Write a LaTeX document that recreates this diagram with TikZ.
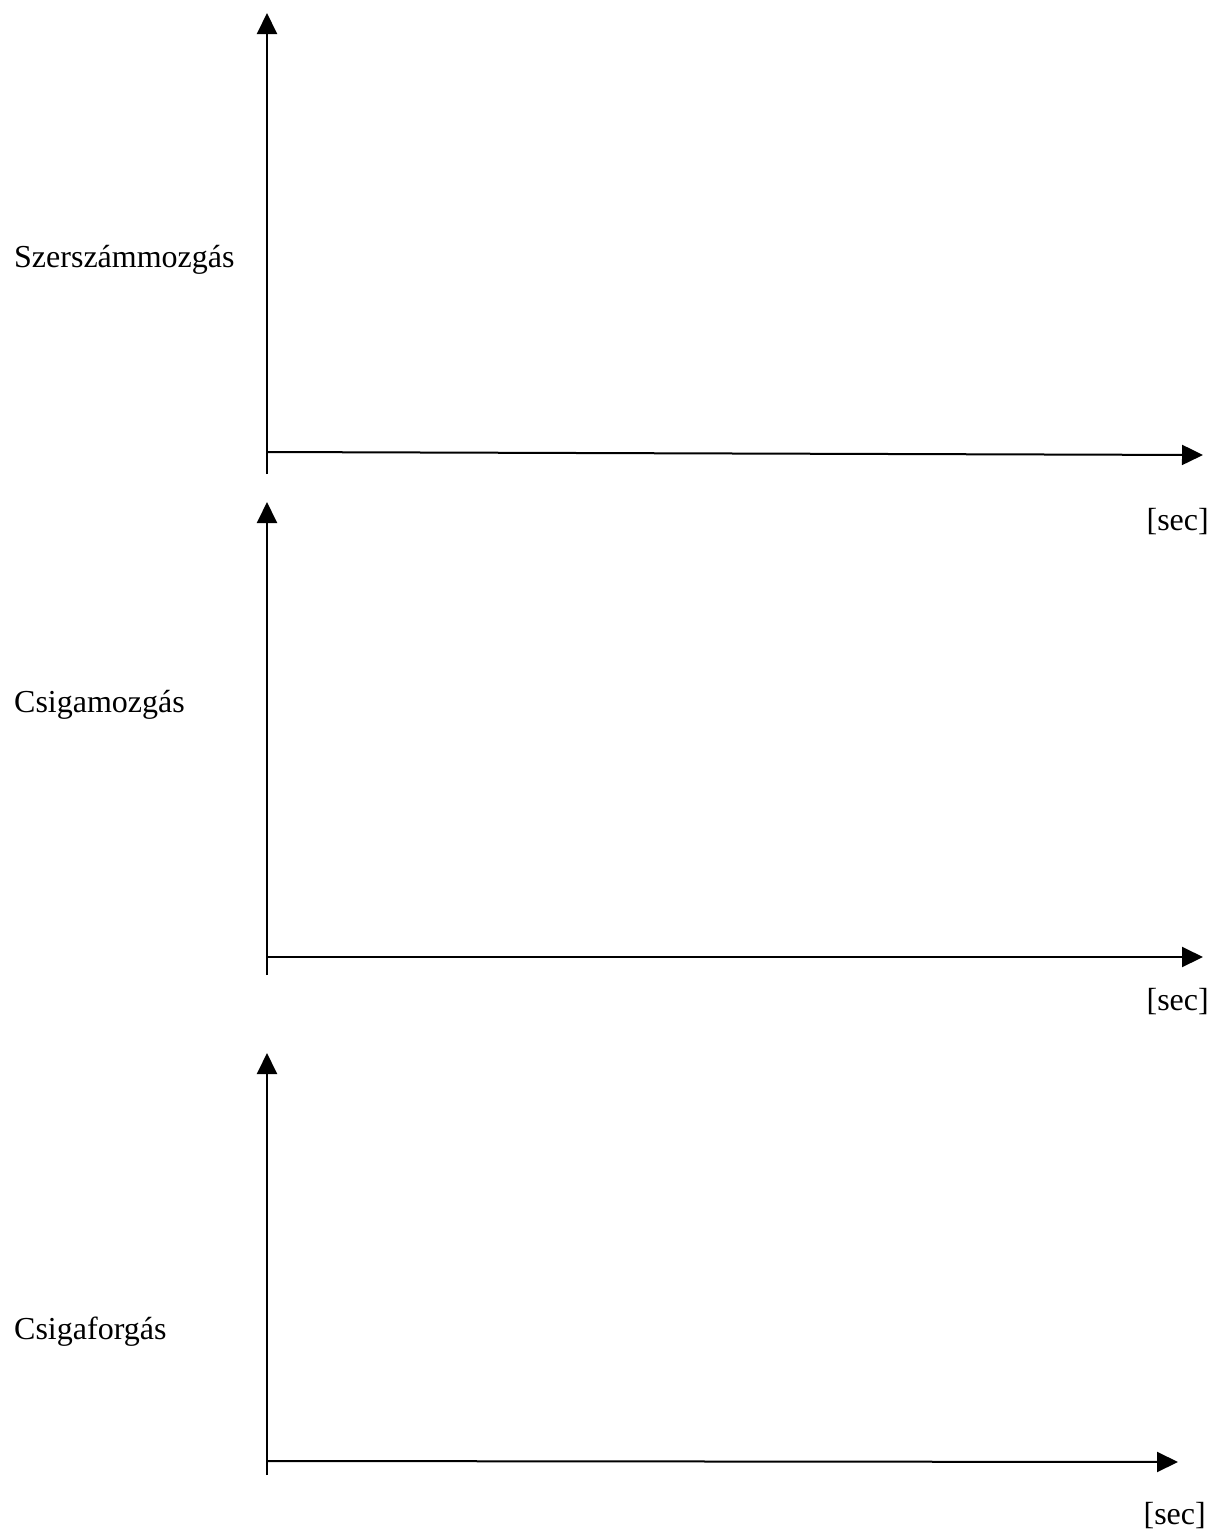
\documentclass[tikz,border=0pt]{standalone}
\usepackage{fontspec}
\setmainfont{Liberation Serif}
\usetikzlibrary{arrows.meta}
\begin{document}
\begin{tikzpicture}[x=1pt,y=-1pt,
  axis/.style={line width=2pt,-{Triangle[length=21pt,width=20pt]}},
  lbl/.style={font=\fontsize{32}{38}\selectfont,inner sep=0pt,anchor=base west},
  unit/.style={font=\fontsize{32}{38}\selectfont,inner sep=0pt,anchor=base east}]
\useasboundingbox (0,0) rectangle (1213,1532);
% axis 1
\coordinate (o1) at (267,474);
\coordinate (y1) at (267,13);
\coordinate (h1s) at (267,452);
\coordinate (x1) at (1203,455);
\draw[axis] (o1) -- (y1);
\draw[axis] (h1s) -- (x1);
\node[lbl] (l1) at (14,267) {Szerszámmozgás};
\node[unit] (s1) at (1209,530) {[sec]};
% axis 2
\coordinate (o2) at (267,975);
\coordinate (y2) at (267,502);
\coordinate (h2s) at (267,957);
\coordinate (x2) at (1203,957);
\draw[axis] (o2) -- (y2);
\draw[axis] (h2s) -- (x2);
\node[lbl] (l2) at (14,712) {Csigamozgás};
\node[unit] (s2) at (1209,1010) {[sec]};
% axis 3
\coordinate (o3) at (267,1475);
\coordinate (y3) at (267,1053);
\coordinate (h3s) at (267,1461);
\coordinate (x3) at (1178,1462);
\draw[axis] (o3) -- (y3);
\draw[axis] (h3s) -- (x3);
\node[lbl] (l3) at (14,1339) {Csigaforgás};
\node[unit] (s3) at (1206,1524) {[sec]};
\end{tikzpicture}
\end{document}
